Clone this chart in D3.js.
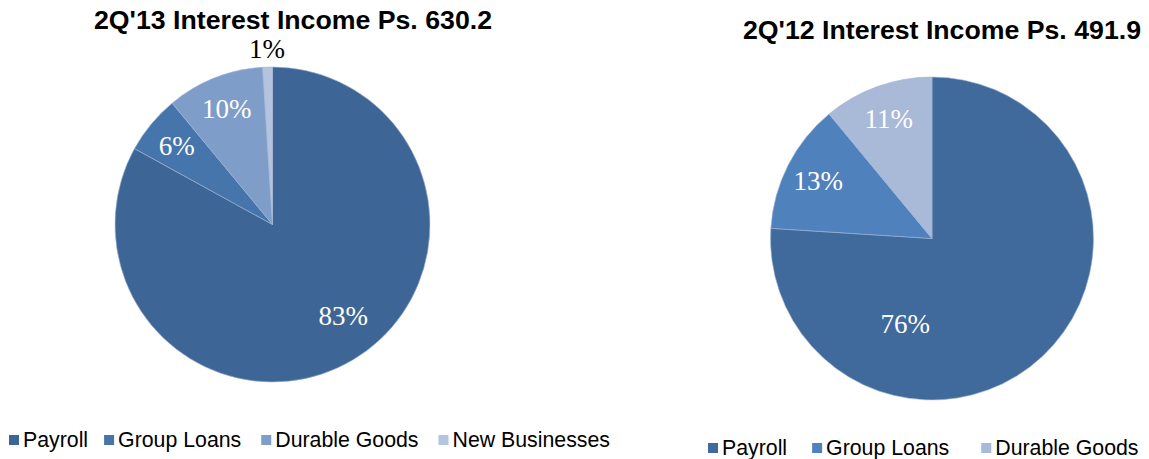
<!DOCTYPE html>
<html>
<head>
<meta charset="utf-8">
<script src="https://cdn.jsdelivr.net/npm/d3@7"></script>
<style>
  html, body { margin: 0; padding: 0; background: #fff; }
  svg { display: block; }
</style>
</head>
<body>
<svg id="chart" width="1149" height="459"></svg>
<script>
// Interest income mix, share of total (%)
const categories13 = ["Payroll", "Group Loans", "Durable Goods", "New Businesses"];
const values13 = [83, 6, 10, 1];
const categories12 = ["Payroll", "Group Loans", "Durable Goods"];
const values12 = [76, 13, 11];
const title13 = "2Q'13 Interest Income Ps. 630.2";
const title12 = "2Q'12 Interest Income Ps. 491.9";

const svg = d3.select("#chart");

const charts = [
  {
    title: title13, categories: categories13, values: values13,
    colors: ["#3D6696", "#4675AC", "#7F9DC9", "#B4C4DF"],
    cx: 272.5, cy: 224.5, r: 157.5,
    titleX: 293, titleY: 29,
    legendX: 9, legendY: 447, legendGaps: [16, 20, 20],
    // large slice label sits where the "best fit" layout puts it
    bigLabel: { angle: 142, ratio: 0.73 }
  },
  {
    title: title12, categories: categories12, values: values12,
    colors: ["#3F6A9B", "#4F81BD", "#A9B9D8"],
    cx: 932, cy: 238.5, r: 161.5,
    titleX: 942, titleY: 39,
    legendX: 708, legendY: 455, legendGaps: [25, 32],
    bigLabel: { angle: 197.6, ratio: 0.55 }
  }
];

charts.forEach(c => {
  const g = svg.append("g");

  g.append("text")
    .attr("x", c.titleX).attr("y", c.titleY)
    .attr("text-anchor", "middle")
    .attr("font-family", "Liberation Sans, Arial, sans-serif")
    .attr("font-weight", "bold")
    .attr("font-size", 26.7)
    .attr("fill", "#000")
    .text(c.title);

  const data = c.categories.map((k, i) => ({ key: k, value: c.values[i], color: c.colors[i] }));
  const pie = d3.pie().sort(null).value(d => d.value);
  const arcs = pie(data);
  const arc = d3.arc().innerRadius(0).outerRadius(c.r);

  const pg = g.append("g").attr("transform", `translate(${c.cx},${c.cy})`);
  pg.selectAll("path").data(arcs).join("path")
    .attr("d", arc)
    .attr("fill", d => d.data.color)
    .attr("stroke", "#9FB4D4")
    .attr("stroke-width", 0.6)
    .attr("stroke-linejoin", "round");

  pg.selectAll("text.lbl").data(arcs).join("text")
    .attr("class", "lbl")
    .each(function (d, i) {
      let ang = (d.startAngle + d.endAngle) / 2;
      let ratio = 0.79;
      let outside = false;
      if (i === 0) {
        ang = c.bigLabel.angle * Math.PI / 180;
        ratio = c.bigLabel.ratio;
      } else if (d.data.value < 3) {
        ratio = 1.12;
        outside = true;
      }
      const rr = c.r * ratio;
      d3.select(this)
        .attr("x", Math.sin(ang) * rr)
        .attr("y", -Math.cos(ang) * rr)
        .attr("dy", "0.35em")
        .attr("fill", outside ? "#000" : "#fff");
    })
    .attr("text-anchor", "middle")
    .attr("font-family", "Liberation Serif, 'Times New Roman', serif")
    .attr("font-size", 27)
    .text(d => d.data.value + "%");

  // legend
  const lg = g.append("g").attr("transform", `translate(${c.legendX},${c.legendY})`);
  let x = 0;
  data.forEach((d, i) => {
    const item = lg.append("g").attr("transform", `translate(${x},0)`);
    item.append("rect")
      .attr("x", 0).attr("y", -12)
      .attr("width", 10).attr("height", 10)
      .attr("fill", d.color);
    const t = item.append("text")
      .attr("x", 14).attr("y", 0)
      .attr("font-family", "Liberation Sans, Arial, sans-serif")
      .attr("font-size", 21.3)
      .attr("fill", "#000")
      .text(d.key);
    x += 14 + t.node().getComputedTextLength() + (c.legendGaps[i] || 0);
  });
});
</script>
</body>
</html>
